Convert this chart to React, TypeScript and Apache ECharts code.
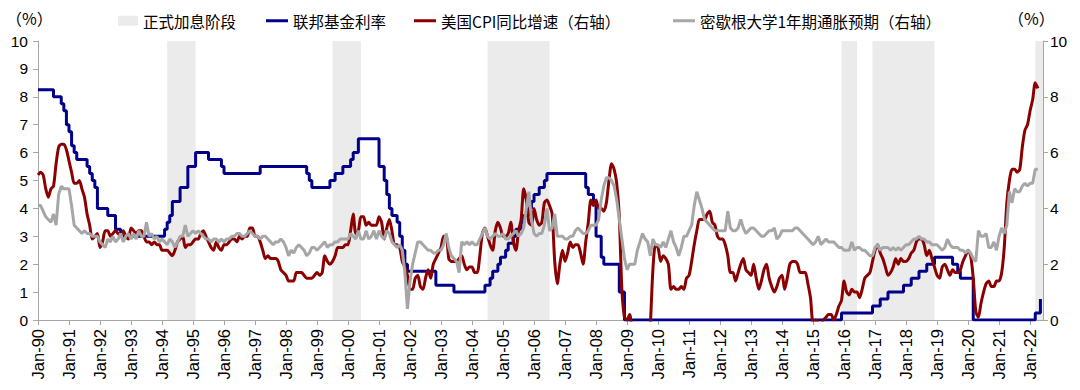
import React, { useEffect, useRef } from "react";
import * as echarts from "echarts";

// ---------- categories (monthly, Jan-90 .. Jun-22) ----------
const MONTHS = ["Jan", "Feb", "Mar", "Apr", "May", "Jun", "Jul", "Aug", "Sep", "Oct", "Nov", "Dec"];
const START_YEAR = 1990;
const END_YEAR = 2022;
const END_MONTH = 6; // Jun-22 is the last category
const CATEGORIES: string[] = [];
for (let y = START_YEAR; y <= END_YEAR; y++) {
  for (let m = 0; m < 12; m++) {
    if (y === END_YEAR && m >= END_MONTH) break;
    CATEGORIES.push(`${MONTHS[m]}-${String(y % 100).padStart(2, "0")}`);
  }
}

// ---------- series names ----------
const NAME_HIKE = "正式加息阶段";
const NAME_FF = "联邦基金利率";
const NAME_CPI = "美国CPI同比增速（右轴）";
const NAME_MICH = "密歇根大学1年期通胀预期（右轴）";

// ---------- Fed funds rate (%), monthly ----------
const FED_FUNDS: number[] = [
  8.25, 8.25, 8.25, 8.25, 8.25, 8.25, 8, 8, 8, 7.75, 7.5, 7, // 1990
  6.75, 6.25, 6, 5.75, 5.75, 5.75, 5.75, 5.5, 5.25, 5, 4.75, 4, // 1991
  4, 4, 4, 3.75, 3.75, 3.75, 3.25, 3.25, 3, 3, 3, 3, // 1992
  3, 3, 3, 3, 3, 3, 3, 3, 3, 3, 3, 3, // 1993
  3, 3.25, 3.5, 3.75, 4.25, 4.25, 4.25, 4.75, 4.75, 4.75, 5.5, 5.5, // 1994
  5.5, 6, 6, 6, 6, 6, 5.75, 5.75, 5.75, 5.75, 5.75, 5.5, // 1995
  5.25, 5.25, 5.25, 5.25, 5.25, 5.25, 5.25, 5.25, 5.25, 5.25, 5.25, 5.25, // 1996
  5.25, 5.25, 5.5, 5.5, 5.5, 5.5, 5.5, 5.5, 5.5, 5.5, 5.5, 5.5, // 1997
  5.5, 5.5, 5.5, 5.5, 5.5, 5.5, 5.5, 5.5, 5.25, 5, 4.75, 4.75, // 1998
  4.75, 4.75, 4.75, 4.75, 4.75, 5, 5, 5.25, 5.25, 5.25, 5.5, 5.5, // 1999
  5.5, 5.75, 6, 6, 6.5, 6.5, 6.5, 6.5, 6.5, 6.5, 6.5, 6.5, // 2000
  5.5, 5.5, 5, 4.5, 4, 3.75, 3.75, 3.5, 3, 2.5, 2, 1.75, // 2001
  1.75, 1.75, 1.75, 1.75, 1.75, 1.75, 1.75, 1.75, 1.75, 1.75, 1.25, 1.25, // 2002
  1.25, 1.25, 1.25, 1.25, 1.25, 1, 1, 1, 1, 1, 1, 1, // 2003
  1, 1, 1, 1, 1, 1.25, 1.25, 1.5, 1.75, 1.75, 2, 2.25, // 2004
  2.25, 2.5, 2.75, 2.75, 3, 3.25, 3.25, 3.5, 3.75, 3.75, 4, 4.25, // 2005
  4.5, 4.5, 4.75, 4.75, 5, 5.25, 5.25, 5.25, 5.25, 5.25, 5.25, 5.25, // 2006
  5.25, 5.25, 5.25, 5.25, 5.25, 5.25, 5.25, 5.25, 4.75, 4.5, 4.5, 4.25, // 2007
  3, 3, 2.25, 2, 2, 2, 2, 2, 2, 1, 1, 0, // 2008
  0, 0, 0, 0, 0, 0, 0, 0, 0, 0, 0, 0, // 2009
  0, 0, 0, 0, 0, 0, 0, 0, 0, 0, 0, 0, // 2010
  0, 0, 0, 0, 0, 0, 0, 0, 0, 0, 0, 0, // 2011
  0, 0, 0, 0, 0, 0, 0, 0, 0, 0, 0, 0, // 2012
  0, 0, 0, 0, 0, 0, 0, 0, 0, 0, 0, 0, // 2013
  0, 0, 0, 0, 0, 0, 0, 0, 0, 0, 0, 0, // 2014
  0, 0, 0, 0, 0, 0, 0, 0, 0, 0, 0, 0.25, // 2015
  0.25, 0.25, 0.25, 0.25, 0.25, 0.25, 0.25, 0.25, 0.25, 0.25, 0.25, 0.5, // 2016
  0.5, 0.5, 0.75, 0.75, 0.75, 1, 1, 1, 1, 1, 1, 1.25, // 2017
  1.25, 1.25, 1.5, 1.5, 1.5, 1.75, 1.75, 1.75, 2, 2, 2, 2.25, // 2018
  2.25, 2.25, 2.25, 2.25, 2.25, 2.25, 2, 2, 1.75, 1.5, 1.5, 1.5, // 2019
  1.5, 1.5, 0, 0, 0, 0, 0, 0, 0, 0, 0, 0, // 2020
  0, 0, 0, 0, 0, 0, 0, 0, 0, 0, 0, 0, // 2021
  0, 0, 0.25, 0.25, 0.75, // 2022
];

// ---------- US CPI YoY (%), monthly ----------
const CPI_YOY: number[] = [
  5.2, 5.3, 5.2, 4.7, 4.4, 4.7, 4.8, 5.6, 6.2, 6.3, 6.3, 6.1, // 1990
  5.7, 5.3, 4.9, 4.9, 5.0, 4.7, 4.4, 3.8, 3.4, 2.9, 3.0, 3.1, // 1991
  2.6, 2.8, 3.2, 3.2, 3.0, 3.1, 3.2, 3.1, 3.0, 3.2, 3.0, 2.9, // 1992
  3.3, 3.2, 3.1, 3.2, 3.2, 3.0, 2.8, 2.8, 2.7, 2.8, 2.7, 2.7, // 1993
  2.5, 2.5, 2.5, 2.4, 2.3, 2.5, 2.8, 2.9, 3.0, 2.6, 2.7, 2.7, // 1994
  2.8, 2.9, 2.9, 3.1, 3.2, 3.0, 2.8, 2.6, 2.5, 2.8, 2.6, 2.5, // 1995
  2.7, 2.7, 2.8, 2.9, 2.9, 2.8, 3.0, 2.9, 3.0, 3.0, 3.3, 3.3, // 1996
  3.0, 3.0, 2.8, 2.5, 2.2, 2.3, 2.2, 2.2, 2.2, 2.1, 1.8, 1.7, // 1997
  1.6, 1.4, 1.4, 1.4, 1.7, 1.7, 1.7, 1.6, 1.5, 1.5, 1.5, 1.6, // 1998
  1.7, 1.6, 1.7, 2.3, 2.1, 2.0, 2.1, 2.3, 2.6, 2.6, 2.6, 2.7, // 1999
  2.7, 3.2, 3.8, 3.1, 3.2, 3.7, 3.7, 3.4, 3.5, 3.4, 3.4, 3.4, // 2000
  3.7, 3.5, 2.9, 3.3, 3.6, 3.2, 2.7, 2.7, 2.6, 2.1, 1.9, 1.6, // 2001
  1.1, 1.1, 1.5, 1.6, 1.2, 1.1, 1.5, 1.8, 1.5, 2.0, 2.2, 2.4, // 2002
  2.6, 3.0, 3.0, 2.2, 2.1, 2.1, 2.1, 2.2, 2.3, 2.0, 1.8, 1.9, // 2003
  1.9, 1.7, 1.7, 2.3, 3.1, 3.3, 3.0, 2.7, 2.5, 3.2, 3.5, 3.3, // 2004
  3.0, 3.0, 3.1, 3.5, 2.8, 2.5, 3.2, 3.6, 4.7, 4.3, 3.5, 3.4, // 2005
  4.0, 3.6, 3.4, 3.5, 4.2, 4.3, 4.1, 3.8, 2.1, 1.3, 2.0, 2.5, // 2006
  2.1, 2.4, 2.8, 2.6, 2.7, 2.7, 2.4, 2.0, 2.8, 3.5, 4.3, 4.1, // 2007
  4.3, 4.0, 4.0, 3.9, 4.2, 5.0, 5.6, 5.4, 4.9, 3.7, 1.1, 0.1, // 2008
  0.0, 0.2, -0.4, -0.7, -1.3, -1.4, -2.1, -1.5, -1.3, -0.2, 1.8, 2.7, // 2009
  2.6, 2.1, 2.3, 2.2, 2.0, 1.1, 1.2, 1.1, 1.1, 1.2, 1.1, 1.5, // 2010
  1.6, 2.1, 2.7, 3.2, 3.6, 3.6, 3.6, 3.8, 3.9, 3.5, 3.4, 3.0, // 2011
  2.9, 2.9, 2.7, 2.3, 1.7, 1.7, 1.4, 1.7, 2.0, 2.2, 1.8, 1.7, // 2012
  1.6, 2.0, 1.5, 1.1, 1.4, 1.8, 2.0, 1.5, 1.2, 1.0, 1.2, 1.5, // 2013
  1.6, 1.1, 1.5, 2.0, 2.1, 2.1, 2.0, 1.7, 1.7, 1.7, 1.3, 0.8, // 2014
  -0.1, 0.0, -0.1, -0.2, 0.0, 0.1, 0.2, 0.2, 0.0, 0.2, 0.5, 0.7, // 2015
  1.4, 1.0, 0.9, 1.1, 1.0, 1.0, 0.8, 1.1, 1.5, 1.6, 1.7, 2.1, // 2016
  2.5, 2.7, 2.4, 2.2, 1.9, 1.6, 1.7, 1.9, 2.2, 2.0, 2.2, 2.1, // 2017
  2.1, 2.2, 2.4, 2.5, 2.8, 2.9, 2.9, 2.7, 2.3, 2.5, 2.2, 1.9, // 2018
  1.6, 1.5, 1.9, 2.0, 1.8, 1.6, 1.8, 1.7, 1.7, 1.8, 2.1, 2.3, // 2019
  2.5, 2.3, 1.5, 0.3, 0.1, 0.6, 1.0, 1.3, 1.4, 1.2, 1.2, 1.4, // 2020
  1.4, 1.7, 2.6, 4.2, 5.0, 5.4, 5.4, 5.3, 5.4, 6.2, 6.8, 7.0, // 2021
  7.5, 7.9, 8.5, 8.3, // 2022
];

// ---------- Michigan 1-year inflation expectation (%), monthly ----------
const MICHIGAN_1Y: number[] = [
  4.1, 4.1, 3.9, 3.7, 3.6, 3.5, 3.8, 3.4, 4.5, 4.8, 4.7, 4.7, // 1990
  4.7, 4.1, 3.4, 3.3, 3.2, 3.1, 3.2, 3.1, 3.1, 3.0, 3.0, 3.0, // 1991
  2.8, 2.7, 2.6, 2.9, 2.8, 3.0, 2.8, 2.9, 3.1, 2.8, 3.0, 3.1, // 1992
  2.9, 3.1, 2.9, 3.2, 3.0, 3.0, 3.5, 3.0, 3.1, 2.9, 3.0, 2.8, // 1993
  2.9, 2.8, 2.7, 2.9, 2.8, 2.6, 2.8, 3.0, 3.0, 3.4, 3.0, 3.1, // 1994
  3.2, 3.1, 3.2, 3.1, 3.0, 2.9, 2.9, 2.8, 2.9, 2.9, 2.8, 2.9, // 1995
  2.8, 2.9, 2.9, 3.0, 3.0, 3.1, 3.1, 3.0, 3.0, 3.1, 3.2, 3.1, // 1996
  3.0, 3.0, 2.9, 3.0, 3.0, 2.9, 2.8, 2.7, 2.8, 2.8, 2.9, 2.8, // 1997
  2.6, 2.3, 2.5, 2.4, 2.6, 2.7, 2.6, 2.5, 2.3, 2.4, 2.6, 2.6, // 1998
  2.5, 2.6, 2.7, 2.8, 2.6, 2.7, 2.7, 2.8, 2.8, 2.9, 2.9, 2.9, // 1999
  2.9, 3.1, 3.0, 2.9, 3.2, 2.9, 2.9, 3.2, 2.9, 3.0, 3.2, 2.9, // 2000
  3.2, 3.0, 2.9, 3.2, 3.1, 2.8, 2.7, 2.6, 2.7, 2.5, 1.7, 0.4, // 2001
  1.4, 2.0, 2.4, 2.8, 2.8, 2.7, 2.6, 2.5, 2.5, 2.4, 2.4, 2.5, // 2002
  2.5, 2.7, 3.1, 2.6, 2.3, 2.2, 2.1, 1.7, 2.8, 2.7, 2.8, 2.7, // 2003
  2.8, 2.7, 2.7, 2.9, 3.1, 3.3, 3.0, 2.9, 3.0, 3.1, 3.0, 3.0, // 2004
  3.1, 2.9, 2.9, 3.0, 3.1, 3.2, 3.0, 3.1, 3.3, 4.0, 4.6, 3.6, // 2005
  3.1, 3.0, 3.1, 3.1, 3.4, 4.0, 3.2, 3.3, 3.8, 3.0, 3.0, 3.0, // 2006
  2.9, 2.9, 3.0, 3.0, 3.2, 3.3, 3.2, 3.1, 3.1, 3.2, 3.4, 3.4, // 2007
  3.4, 3.6, 4.3, 4.8, 5.1, 5.1, 5.0, 4.8, 4.3, 3.6, 2.9, 2.2, // 2008
  1.8, 2.0, 2.0, 2.0, 2.5, 2.8, 3.1, 2.9, 2.8, 2.3, 2.9, 2.7, // 2009
  2.7, 2.6, 2.8, 2.6, 2.9, 3.2, 2.8, 2.6, 2.3, 2.6, 3.0, 3.0, // 2010
  3.2, 3.4, 4.1, 4.6, 4.3, 4.0, 3.6, 3.5, 3.4, 3.3, 3.2, 3.2, // 2011
  3.2, 3.2, 3.2, 3.9, 3.3, 3.2, 3.2, 3.3, 3.6, 3.3, 3.1, 3.2, // 2012
  3.3, 3.3, 3.2, 3.1, 3.0, 3.0, 3.1, 3.2, 3.2, 3.3, 2.9, 3.0, // 2013
  3.2, 3.2, 3.2, 3.2, 3.2, 3.3, 3.3, 3.2, 3.1, 3.0, 2.9, 2.8, // 2014
  2.7, 2.8, 3.0, 2.7, 2.8, 2.9, 2.8, 2.8, 2.8, 2.7, 2.6, 2.6, // 2015
  2.5, 2.5, 2.5, 2.8, 2.5, 2.6, 2.6, 2.5, 2.5, 2.4, 2.3, 2.3, // 2016
  2.6, 2.7, 2.5, 2.6, 2.6, 2.6, 2.5, 2.6, 2.5, 2.6, 2.5, 2.6, // 2017
  2.7, 2.7, 2.8, 2.9, 2.9, 3.0, 2.9, 2.9, 2.8, 2.8, 2.7, 2.7, // 2018
  2.7, 2.6, 2.5, 2.6, 2.9, 2.7, 2.6, 2.6, 2.6, 2.5, 2.5, 2.4, // 2019
  2.5, 2.4, 2.2, 2.1, 3.2, 3.0, 3.0, 3.1, 2.6, 2.6, 2.8, 2.5, // 2020
  3.0, 3.3, 3.1, 3.4, 4.6, 4.2, 4.7, 4.6, 4.6, 4.8, 4.9, 4.8, // 2021
  4.9, 4.9, 5.4, 5.4, // 2022
];

// ---------- formal hiking phases (start, end) ----------
const HIKE_PERIODS: [string, string][] = [
  ["Mar-94", "Feb-95"],
  ["Jul-99", "Jun-00"],
  ["Jul-04", "Jul-06"],
  ["Dec-15", "Jun-16"],
  ["Dec-16", "Dec-18"],
  ["Mar-22", "Jun-22"],
];

// ---------- axis settings ----------
const LEFT_AXIS = { min: 0, max: 10, interval: 1 };
const RIGHT_AXIS = { min: 0, max: 10, interval: 2 };
const UNIT_LABEL = "（%）";

const COLOR_HIKE = "#ebebeb";
const COLOR_FF = "#00008b";
const COLOR_CPI = "#8b0000";
const COLOR_MICH = "#a6a6a6";
const AXIS_COLOR = "#a6a6a6";
const CJK_FONT = '"Noto Sans CJK SC", "Noto Sans", sans-serif';
const NUM_FONT = '"Liberation Sans", Arial, sans-serif';

export default function App() {
  const ref = useRef<HTMLDivElement>(null);

  useEffect(() => {
    if (!ref.current) return;
    const chart = echarts.init(ref.current, undefined, { renderer: "svg" });

    const legendText = { fontSize: 15.5, color: "#000", fontFamily: CJK_FONT };
    const lineLegend = (name: string, color: string, left: number) => ({
      data: [{ name, icon: "rect", itemStyle: { color } }],
      left,
      top: 13,
      padding: 0,
      itemWidth: 22,
      itemHeight: 3,
      textStyle: legendText,
      selectedMode: false,
    });

    const axisLabelNum = { fontSize: 15.5, color: "#000", fontFamily: NUM_FONT };

    const option: any = {
      animation: false,
      backgroundColor: "#ffffff",
      grid: { left: 38, right: 37, top: 41, bottom: 70, containLabel: false },
      legend: [
        {
          data: [{ name: NAME_HIKE, icon: "rect", itemStyle: { color: COLOR_HIKE } }],
          left: 118,
          top: 13,
          padding: 0,
          itemWidth: 20,
          itemHeight: 10,
          textStyle: legendText,
          selectedMode: false,
        },
        lineLegend(NAME_FF, COLOR_FF, 266),
        lineLegend(NAME_CPI, COLOR_CPI, 414),
        lineLegend(NAME_MICH, COLOR_MICH, 673),
      ],
      xAxis: {
        type: "category",
        data: CATEGORIES,
        boundaryGap: false,
        axisLine: { show: true, lineStyle: { color: AXIS_COLOR, width: 1 } },
        axisTick: { show: true, interval: 11, length: 5, lineStyle: { color: AXIS_COLOR } },
        axisLabel: {
          interval: 11,
          rotate: 90,
          margin: 9,
          fontSize: 16.5,
          color: "#000",
          fontFamily: NUM_FONT,
        },
        splitLine: { show: false },
      },
      yAxis: [
        {
          type: "value",
          position: "left",
          ...LEFT_AXIS,
          axisLine: { show: true, lineStyle: { color: AXIS_COLOR } },
          axisTick: { show: true, length: 5, lineStyle: { color: AXIS_COLOR } },
          axisLabel: { ...axisLabelNum, margin: 10 },
          splitLine: { show: false },
        },
        {
          type: "value",
          position: "right",
          ...RIGHT_AXIS,
          axisLine: { show: true, lineStyle: { color: AXIS_COLOR } },
          axisTick: { show: true, length: 5, lineStyle: { color: AXIS_COLOR } },
          axisLabel: { ...axisLabelNum, margin: 7 },
          splitLine: { show: false },
        },
      ],
      series: [
        {
          name: NAME_HIKE,
          type: "line",
          data: [],
          symbol: "none",
          z: 0,
          color: COLOR_HIKE,
          itemStyle: { color: COLOR_HIKE },
          lineStyle: { color: COLOR_HIKE },
          markArea: {
            silent: true,
            itemStyle: { color: COLOR_HIKE },
            data: HIKE_PERIODS.map(([a, b]) => [{ xAxis: a }, { xAxis: b }]),
          },
        },
        {
          name: NAME_FF,
          type: "line",
          yAxisIndex: 0,
          data: FED_FUNDS,
          step: "end",
          symbol: "none",
          z: 2,
          color: COLOR_FF,
          lineStyle: { color: COLOR_FF, width: 3 },
        },
        {
          name: NAME_CPI,
          type: "line",
          yAxisIndex: 1,
          data: CPI_YOY,
          smooth: 0.25,
          symbol: "none",
          clip: true,
          z: 3,
          color: COLOR_CPI,
          lineStyle: { color: COLOR_CPI, width: 3 },
        },
        {
          name: NAME_MICH,
          type: "line",
          yAxisIndex: 1,
          data: MICHIGAN_1Y,
          symbol: "none",
          z: 4,
          color: COLOR_MICH,
          lineStyle: { color: COLOR_MICH, width: 3 },
        },
      ],
      graphic: [
        {
          type: "text",
          x: 6,
          y: 10,
          style: { text: UNIT_LABEL, font: `16px ${CJK_FONT}`, fill: "#000" },
        },
        {
          type: "text",
          x: 1008,
          y: 10,
          style: { text: UNIT_LABEL, font: `16px ${CJK_FONT}`, fill: "#000" },
        },
      ],
    };

    chart.setOption(option);
    return () => chart.dispose();
  }, []);

  return (
    <div
      ref={ref}
      style={{ position: "absolute", left: 0, top: 0, width: 1080, height: 390, background: "#fff" }}
    />
  );
}
